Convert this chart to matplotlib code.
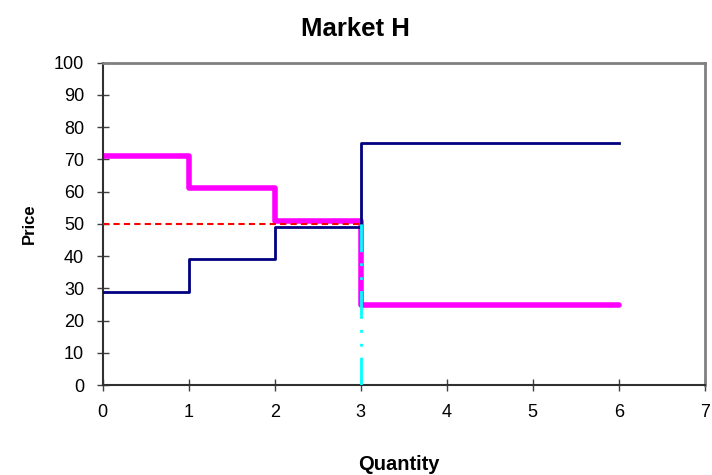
import matplotlib
matplotlib.use("Agg")
import matplotlib.pyplot as plt

# Data
demand_q = [0, 1, 2, 3, 6]
demand_p = [71, 61, 51, 25, 25]
supply_q = [0, 1, 2, 3, 6]
supply_p = [29, 39, 49, 75, 75]
clear_price = 50
clear_qty = 3
clear_top = 51
x_ticks = [0, 1, 2, 3, 4, 5, 6, 7]
y_ticks = [0, 10, 20, 30, 40, 50, 60, 70, 80, 90, 100]

plt.rcParams['font.family'] = ['Liberation Sans', 'DejaVu Sans']

fig = plt.figure(figsize=(7.12, 4.75), dpi=100)
ax = fig.add_axes([0.144, 0.189, 0.846, 0.679])

ax.step(supply_q, supply_p, where='post', color='#000080', lw=2, zorder=3)
ax.plot([0, clear_qty], [clear_price, clear_price], color='#ff0000', lw=1.5,
        ls=(0, (3, 2)), zorder=4)
ax.step(demand_q, demand_p, where='post', color='#ff00ff', lw=4, zorder=2,
        solid_capstyle='round', solid_joinstyle='round')
ax.plot([clear_qty, clear_qty], [0, clear_top], color='#00ffff', lw=2,
        ls=(0, (10, 4, 1, 4, 1, 4)), zorder=5)

ax.set_xlim(0, 7)
ax.set_ylim(0, 100)
ax.set_xticks(x_ticks)
ax.set_yticks(y_ticks)
ax.tick_params(axis='both', labelsize=13, direction='inout', length=8.5,
               width=1, color='#404040')
ax.tick_params(axis='x', pad=9)
ax.tick_params(axis='y', pad=9)

for s in ['top', 'right']:
    ax.spines[s].set_color('#808080')
    ax.spines[s].set_linewidth(2)
for s in ['left', 'bottom']:
    ax.spines[s].set_color('#303030')
    ax.spines[s].set_linewidth(1.5)

ax.set_title('Market H', fontsize=18.5, fontweight='bold', pad=19, x=0.42)
ax.set_xlabel('Quantity', fontsize=14.5, fontweight='bold', labelpad=25)
ax.xaxis.label.set_x(0.492)
ax.set_ylabel('Price', fontsize=12, fontweight='bold', labelpad=12)

fig.savefig('out.png', dpi=100)
